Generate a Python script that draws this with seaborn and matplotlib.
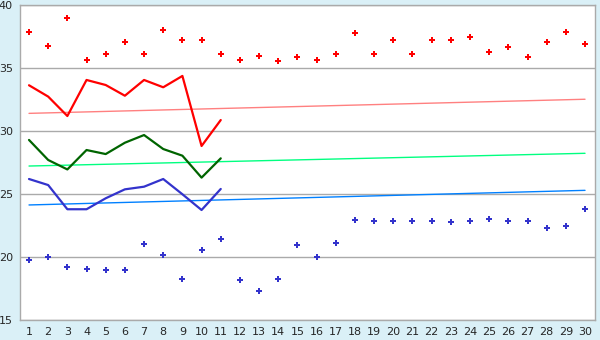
import matplotlib
matplotlib.use("Agg")
import matplotlib.pyplot as plt
import seaborn as sns
import pandas as pd

days = list(range(1, 31))
max_pts = [37.83, 36.72, 38.94, 35.61, 36.11, 37.04, 36.11, 37.99, 37.2, 37.2,
           36.11, 35.61, 35.93, 35.53, 35.85, 35.61, 36.09, 37.75, 36.09, 37.2,
           36.09, 37.2, 37.2, 37.43, 36.24, 36.64, 35.85, 37.04, 37.83, 36.88]
min_pts = [19.74, 19.98, 19.18, 19.02, 18.94, 18.94, 21.01, 20.13, 18.23, 20.53,
           21.40, 18.15, 17.28, 18.23, 20.93, 19.98, 21.09, 22.91, 22.83, 22.83,
           22.83, 22.83, 22.75, 22.83, 22.99, 22.83, 22.83, 22.28, 22.44, 23.79]
line_days = list(range(1, 12))
red_line = [33.63, 32.73, 31.19, 34.05, 33.65, 32.80, 34.05, 33.47, 34.37, 28.81, 30.87]
green_line = [29.29, 27.70, 26.95, 28.49, 28.17, 29.07, 29.68, 28.57, 28.04, 26.30, 27.83]
blue_line = [26.19, 25.71, 23.79, 23.79, 24.66, 25.37, 25.58, 26.19, 24.98, 23.73, 25.40]
trend_days = [1, 30]
trend_red = [31.40, 32.52]
trend_green = [27.22, 28.23]
trend_blue = [24.13, 25.29]
yticks = [15, 20, 25, 30, 35, 40]

sns.set_style("white")
plt.rcParams['font.family'] = ['DejaVu Sans']

fig = plt.figure(figsize=(6, 3.4), dpi=100, facecolor="#daf0f7")
ax = fig.add_axes([20/600, 20/340, 575/600, 315/340])
ax.set_facecolor("white")

for y in yticks:
    ax.axhline(y, color="#aaaaaa", lw=1, zorder=0)

sns.lineplot(x=trend_days, y=trend_red, ax=ax, color="#ff8080", lw=1)
sns.lineplot(x=trend_days, y=trend_green, ax=ax, color="#00ff80", lw=1)
sns.lineplot(x=trend_days, y=trend_blue, ax=ax, color="#0080ff", lw=1)

sns.lineplot(x=line_days, y=red_line, ax=ax, color="#ff0000", lw=1.6)
sns.lineplot(x=line_days, y=green_line, ax=ax, color="#006400", lw=1.6)
sns.lineplot(x=line_days, y=blue_line, ax=ax, color="#3333cc", lw=1.6)

sns.scatterplot(x=days, y=max_pts, ax=ax, color="#ff0000", marker="P", s=20, linewidth=0)
sns.scatterplot(x=days, y=min_pts, ax=ax, color="#3333cc", marker="P", s=20, linewidth=0)

ax.set_xlim(0.53, 30.52)
ax.set_ylim(15, 40)
ax.set_xticks(days)
ax.set_xticklabels([str(d) for d in days])
ax.set_yticks(yticks)
ax.tick_params(axis="both", length=4, width=1, color="black", labelsize=8, pad=1, direction="out")
for s in ax.spines.values():
    s.set_color("#aaaaaa")
    s.set_linewidth(1)
ax.set_xlabel("")
ax.set_ylabel("")

fig.savefig("out.png", dpi=100, facecolor=fig.get_facecolor())
